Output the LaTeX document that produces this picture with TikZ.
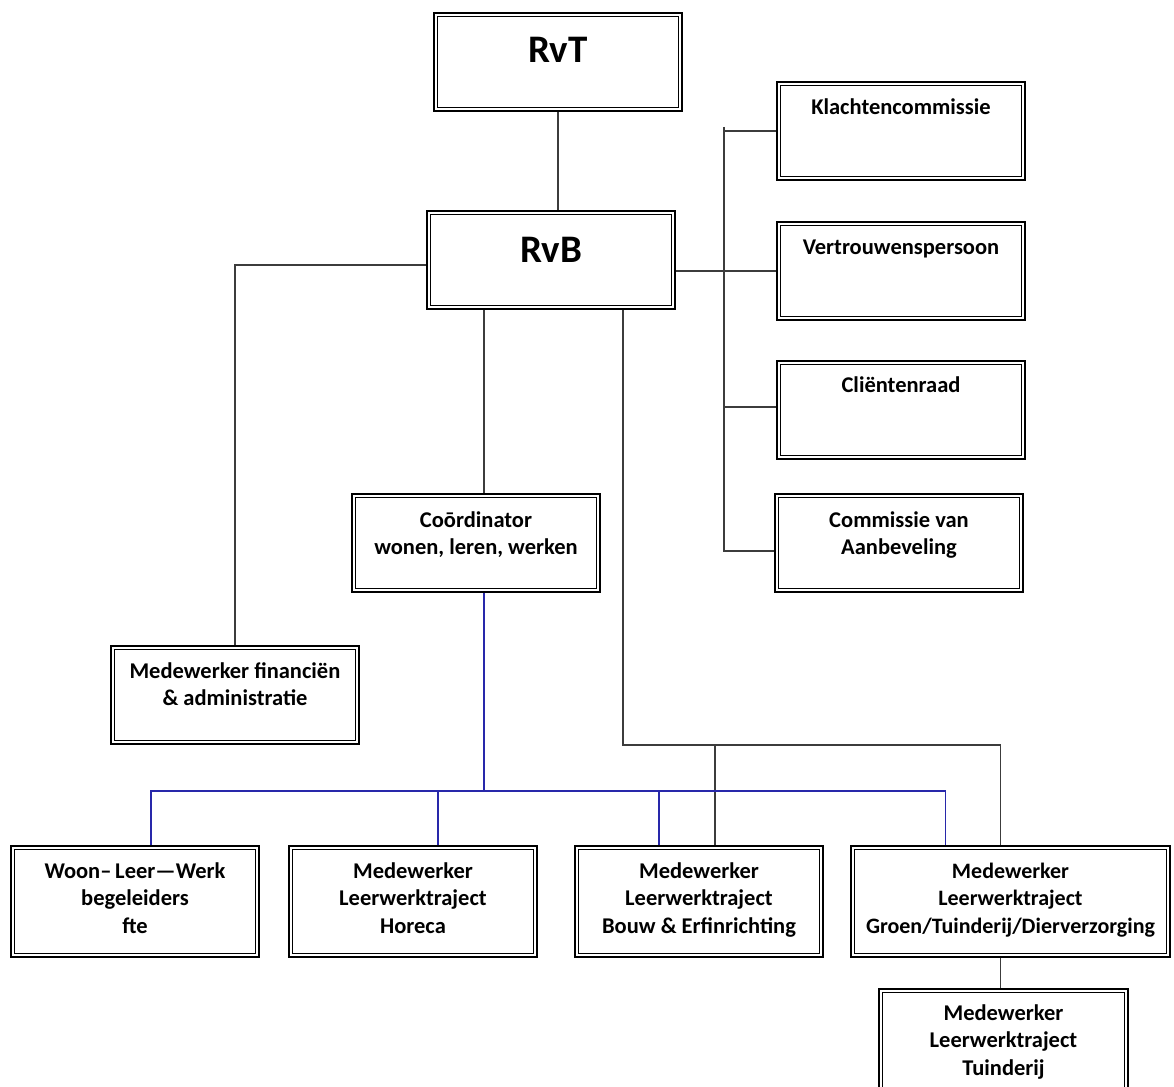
\documentclass[tikz,border=0pt]{standalone}
\usepackage{fontspec}
\setmainfont{Carlito}
\usetikzlibrary{calc}
\definecolor{linegray}{RGB}{60,60,60}
\definecolor{lineblue}{RGB}{40,40,170}
\begin{document}
\begin{tikzpicture}[x=1pt,y=-1pt,
  box/.style={draw=black, line width=2pt, fill=white, inner sep=0pt,
    minimum width=248pt, minimum height=98pt,
    path picture={\draw[line width=1pt]
      ([shift={(3.5pt,-3.5pt)}]path picture bounding box.north west) rectangle
      ([shift={(-3.5pt,3.5pt)}]path picture bounding box.south east);}},
  tall/.style={minimum height=111pt},
  lbl/.style={font=\bfseries\fontsize{22.5}{27.5}\selectfont, align=center, inner sep=0pt, anchor=base},
  big/.style={font=\bfseries\fontsize{39}{44}\selectfont, inner sep=0pt, anchor=base},
  conn/.style={draw=linegray, line width=1.3pt},
  bconn/.style={draw=lineblue, line width=1.3pt}]
\useasboundingbox (0,0) rectangle (1174,1086);
\clip (0,0) rectangle (1174,1086);
\fill[white] (0,0) rectangle (1174,1086);

% boxes
\node[box] (rvt) at (558,62) {};
\node[box] (rvb) at (551,260) {};
\node[box] (klacht) at (901,131) {};
\node[box] (vertr) at (901,271) {};
\node[box] (client) at (901,410) {};
\node[box] (comm) at (899,543) {};
\node[box] (coord) at (476,543) {};
\node[box] (fin) at (235,695) {};
\node[box,tall] (woon) at (135,901.5) {};
\node[box,tall] (horeca) at (413,901.5) {};
\node[box,tall] (bouw) at (699,901.5) {};
\node[box,tall,minimum width=319pt] (groen) at (1010.5,901.5) {};
\node[box,tall,minimum width=249pt] (tuin) at (1003.5,1044.5) {};

% texts (base anchor = baseline of the last line)
\node[big] (tRvT) at ($(rvt.north)+(0,51)$) {RvT};
\node[big] (tRvB) at ($(rvb.north)+(0,52)$) {RvB};
\node[lbl] (tKl) at ($(klacht.north)+(0,34)$) {Klachtencommissie};
\node[lbl] (tVe) at ($(vertr.north)+(0,33)$) {Vertrouwenspersoon};
\node[lbl] (tCl) at ($(client.north)+(0,32)$) {Cliëntenraad};
\node[lbl] (tCo) at ($(comm.north)+(0,61.5)$) {Commissie van\\Aanbeveling};
\node[lbl] (tCd) at ($(coord.north)+(0,61.5)$) {Coōrdinator\\wonen, leren, werken};
\node[lbl] (tFi) at ($(fin.north)+(0,60.5)$) {Medewerker financiën\\\& administratie};
\node[lbl] (tWo) at ($(woon.north)+(0,88)$) {Woon–\,Leer—Werk\\begeleiders\\fte};
\node[lbl] (tHo) at ($(horeca.north)+(0,88)$) {Medewerker\\Leerwerktraject\\Horeca};
\node[lbl] (tBo) at ($(bouw.north)+(0,88)$) {Medewerker\\Leerwerktraject\\Bouw \& Erfinrichting};
\node[lbl,font=\bfseries\fontsize{22}{27.5}\selectfont] (tGr) at ($(groen.north)+(0,88)$) {Medewerker\\Leerwerktraject\\Groen/Tuinderij/Dierverzorging};
\node[lbl] (tTu) at ($(tuin.north)+(0,87)$) {Medewerker\\Leerwerktraject\\Tuinderij};

% gray connectors
\draw[conn] (rvt.south) -- (rvt.south |- rvb.north);
\draw[conn] ([yshift=-5pt]rvb.west) -| (fin.north);
\draw[conn] (vertr.west -| rvb.east) -- (vertr.west);
\coordinate (busT) at (724,127);
\coordinate (commIn) at ([yshift=-8pt]comm.west);
\draw[conn] (busT) -- (busT |- commIn) -- (commIn);
\draw[conn] (klacht.west -| busT) -- (klacht.west);
\coordinate (clientIn) at ([yshift=3pt]client.west);
\draw[conn] (clientIn -| busT) -- (clientIn);
\coordinate (coordIn) at ([xshift=8pt]coord.north);
\draw[conn] (coordIn |- rvb.south) -- (coordIn);
\coordinate (j1) at (623,745);
\coordinate (groenIn) at ([xshift=-10pt]groen.north);
\coordinate (bouwIn) at ([xshift=16pt]bouw.north);
\draw[conn] (j1 |- rvb.south) -- (j1) -| (groenIn);
\draw[conn] (bouwIn |- j1) -- (bouwIn);
\coordinate (groenOut) at ([xshift=-10pt]groen.south);
\draw[conn] (groenOut) -- (groenOut |- tuin.north);

% blue connectors
\coordinate (coordOut) at ([xshift=8pt]coord.south);
\coordinate (bl) at (484,791);
\coordinate (woonB) at ([xshift=16pt]woon.north);
\coordinate (horB) at ([xshift=25pt]horeca.north);
\coordinate (bouwB) at ([xshift=-40pt]bouw.north);
\coordinate (groenB) at ([xshift=-65pt]groen.north);
\draw[bconn] (coordOut) -- (coordOut |- bl);
\draw[bconn] (woonB) -- (woonB |- bl) -- (groenB |- bl) -- (groenB);
\draw[bconn] (horB |- bl) -- (horB);
\draw[bconn] (bouwB |- bl) -- (bouwB);
\end{tikzpicture}
\end{document}
